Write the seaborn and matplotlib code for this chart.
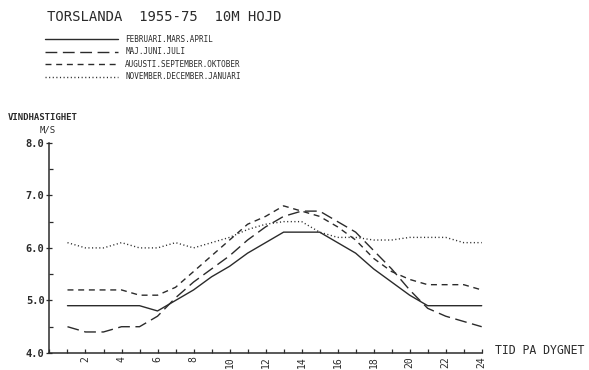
import matplotlib
matplotlib.use("Agg")
import matplotlib.pyplot as plt
import seaborn as sns
import pandas as pd
from matplotlib.ticker import MultipleLocator

# ---- data ----
hours = list(range(1, 25))
feb_apr = [4.9, 4.9, 4.9, 4.9, 4.9, 4.8, 5.0, 5.2, 5.45, 5.65, 5.9, 6.1,
           6.3, 6.3, 6.3, 6.1, 5.9, 5.6, 5.35, 5.1, 4.9, 4.9, 4.9, 4.9]
maj_jul = [4.5, 4.4, 4.4, 4.5, 4.5, 4.7, 5.05, 5.35, 5.6, 5.85, 6.15, 6.4,
           6.6, 6.7, 6.7, 6.5, 6.3, 5.95, 5.6, 5.2, 4.85, 4.7, 4.6, 4.5]
aug_okt = [5.2, 5.2, 5.2, 5.2, 5.1, 5.1, 5.25, 5.55, 5.85, 6.15, 6.45, 6.6,
           6.8, 6.7, 6.6, 6.4, 6.15, 5.8, 5.55, 5.4, 5.3, 5.3, 5.3, 5.2]
nov_jan = [6.1, 6.0, 6.0, 6.1, 6.0, 6.0, 6.1, 6.0, 6.1, 6.2, 6.35, 6.45,
           6.5, 6.5, 6.3, 6.2, 6.2, 6.15, 6.15, 6.2, 6.2, 6.2, 6.1, 6.1]
series_names = ["FEBRUARI.MARS.APRIL", "MAJ.JUNI.JULI",
                "AUGUSTI.SEPTEMBER.OKTOBER", "NOVEMBER.DECEMBER.JANUARI"]
xtick_labels = [str(h) for h in range(2, 25, 2)]
ytick_labels = ["4.0", "5.0", "6.0", "7.0", "8.0"]
title = "TORSLANDA  1955-75  10M HOJD"
ylabel = "VINDHASTIGHET"
yunit = "M/S"
xlabel = "TID PA DYGNET"

df = pd.DataFrame({
    "hour": hours * 4,
    "value": feb_apr + maj_jul + aug_okt + nov_jan,
    "season": [series_names[0]] * 24 + [series_names[1]] * 24
              + [series_names[2]] * 24 + [series_names[3]] * 24,
})

sns.set_style("white")
plt.rcParams["font.family"] = ["DejaVu Sans Mono", "DejaVu Sans"]
ink = "#2b2b2b"

fig = plt.figure(figsize=(5.89, 3.70), dpi=100)
ax = fig.add_axes([0.084, 0.046, 0.743, 0.568])

dashes = {
    series_names[0]: "",
    series_names[1]: (8.5, 4.0),
    series_names[2]: (4.3, 3.4),
    series_names[3]: (0.8, 1.8),
}
palette = {n: ink for n in series_names}
sns.lineplot(data=df, x="hour", y="value", hue="season", style="season",
             palette=palette, dashes=dashes, linewidth=1.0, ax=ax,
             legend=False, errorbar=None)

ax.set_xlim(0, 24.3)
ax.set_ylim(4.0, 8.0)
for s in ["top", "right"]:
    ax.spines[s].set_visible(False)
for s in ["left", "bottom"]:
    ax.spines[s].set_color(ink)
    ax.spines[s].set_linewidth(1.1)
ax.spines["bottom"].set_bounds(0, 24)

ax.set_xticks(list(range(2, 25, 2)))
ax.set_xticklabels(xtick_labels, rotation=90, fontsize=7, color=ink)
ax.xaxis.set_minor_locator(MultipleLocator(1))
ax.set_yticks([4, 5, 6, 7, 8])
ax.set_yticklabels(ytick_labels, fontsize=7.5, color=ink, fontweight="bold")
ax.yaxis.set_minor_locator(MultipleLocator(0.5))
ax.tick_params(axis="x", which="both", direction="in", length=3, width=0.9,
               colors=ink, pad=2, bottom=True)
ax.tick_params(axis="y", which="major", direction="inout", length=5, width=0.9,
               colors=ink, pad=1, left=True)
ax.tick_params(axis="y", which="minor", direction="in", length=3, width=0.9,
               colors=ink, left=True)
ax.set_xlabel("")
ax.set_ylabel("")
ax.grid(False)

# texts
fig.text(47 / 589, 1 - 17 / 370, title, fontsize=10, color=ink,
         ha="left", va="center")
fig.text(8 / 589, 1 - 117 / 370, ylabel, fontsize=6.5, color=ink,
         ha="left", va="center", fontweight="bold")
fig.text(40 / 589, 1 - 130 / 370, yunit, fontsize=6.5, color=ink,
         ha="left", va="center")
fig.text(495 / 589, 1 - 350 / 370, xlabel, fontsize=8.3, color=ink,
         ha="left", va="center")

handles = ax.get_lines()[:4]
fig.legend(handles, series_names, loc="upper left",
           bbox_to_anchor=(45 / 589, 1 - 35 / 370), frameon=False,
           fontsize=5.5, handlelength=9.5, handletextpad=1.0,
           labelspacing=0.45, borderpad=0, borderaxespad=0,
           labelcolor=ink)

fig.savefig("out.png", dpi=100, facecolor="white")
